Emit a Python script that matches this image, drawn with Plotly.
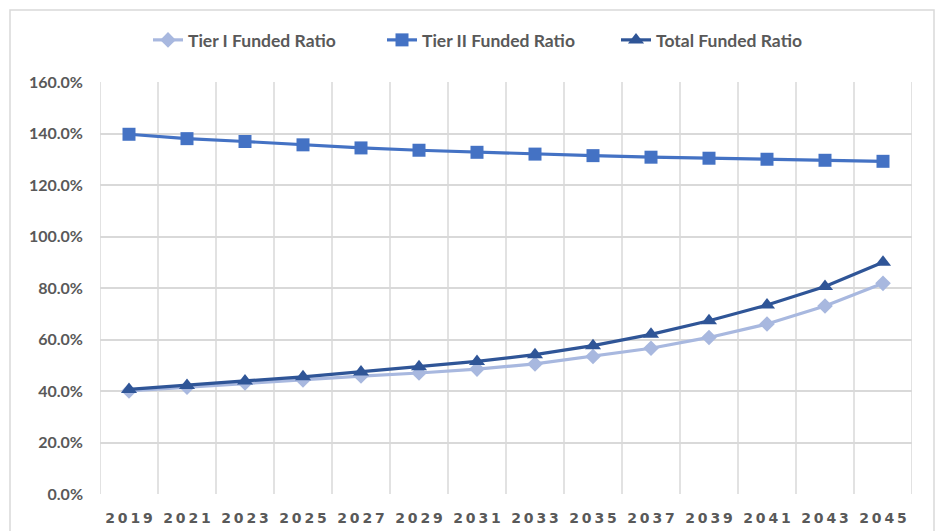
import plotly.graph_objects as go

years = [str(y) for y in range(2019, 2046, 2)]
tier1 = [40.0, 41.5, 43.1, 44.3, 45.8, 47.0, 48.5, 50.5, 53.4, 56.6, 60.8, 66.0, 73.0, 81.8]
tier2 = [139.7, 138.0, 136.9, 135.6, 134.4, 133.5, 132.7, 132.0, 131.4, 130.8, 130.4, 130.0, 129.6, 129.2]
total = [40.6, 42.1, 43.9, 45.5, 47.4, 49.4, 51.5, 54.1, 57.6, 62.0, 67.3, 73.4, 80.6, 90.0]
y_ticks = [0, 20, 40, 60, 80, 100, 120, 140, 160]

tick_text = ["\u2009".join(list(y)) for y in years]
xs = list(range(len(years)))

fig = go.Figure()
fig.add_trace(go.Scatter(x=xs, y=tier1, name="Tier I Funded Ratio", mode="lines+markers",
                         line=dict(color="#A8B8DF", width=3.2),
                         marker=dict(symbol="diamond", size=12, color="#A8B8DF")))
fig.add_trace(go.Scatter(x=xs, y=tier2, name="Tier II Funded Ratio", mode="lines+markers",
                         line=dict(color="#4472C4", width=3.2),
                         marker=dict(symbol="square", size=13, color="#4472C4")))
fig.add_trace(go.Scatter(x=xs, y=total, name="Total Funded Ratio", mode="lines+markers",
                         line=dict(color="#2F5597", width=3.2),
                         marker=dict(symbol="triangle-up", size=14, color="#2F5597")))

fig.update_layout(
    width=937, height=531,
    margin=dict(l=100, r=25, t=82, b=37, autoexpand=False),
    paper_bgcolor="white", plot_bgcolor="white",
    font=dict(family="Lato, Liberation Sans, sans-serif", color="#595959", size=13),
    legend=dict(orientation="h", x=48 / 812, xanchor="left",
                y=(531 - 40 - 37) / (531 - 82 - 37), yanchor="middle",
                font=dict(size=17.5, color="#595959", family="Lato", weight="bold"),
                itemwidth=30, entrywidth=189, traceorder="normal"),
    xaxis=dict(range=[-0.5, len(years) - 0.5], tickmode="array", tickvals=xs, ticktext=tick_text,
               showgrid=False, zeroline=False, showline=False,
               tickfont=dict(size=14, family="DejaVu Sans", weight="bold", color="#595959"),
               ticks="", ticklabelstandoff=14),
    yaxis=dict(range=[0, 160], tickmode="array", tickvals=y_ticks,
               ticktext=[f"{v:.1f}%" for v in y_ticks],
               showgrid=True, gridcolor="#D9D9D9", gridwidth=1.5, zeroline=False,
               showline=False,
               tickfont=dict(size=16, family="Lato", weight="bold", color="#595959"),
               ticks="", ticklabelstandoff=16),
)

# vertical gridlines at category boundaries
for b in range(len(years) + 1):
    fig.add_shape(type="line", xref="x", yref="y", x0=b - 0.5, x1=b - 0.5, y0=0, y1=160,
                  line=dict(color="#D9D9D9", width=1.5), layer="below")

# chart border
pw = 937 - 100 - 25
ph = 531 - 82 - 37
fig.add_shape(type="rect", xref="paper", yref="paper",
              x0=(10 - 100) / pw, x1=(934 - 100) / pw,
              y0=(494 - 540) / ph, y1=(494 - 10) / ph,
              line=dict(color="#D9D9D9", width=1.5), layer="below")

fig.write_html("out.html", config={"displayModeBar": False},
               post_script="document.body.style.margin='0';document.body.style.overflow='hidden';")
